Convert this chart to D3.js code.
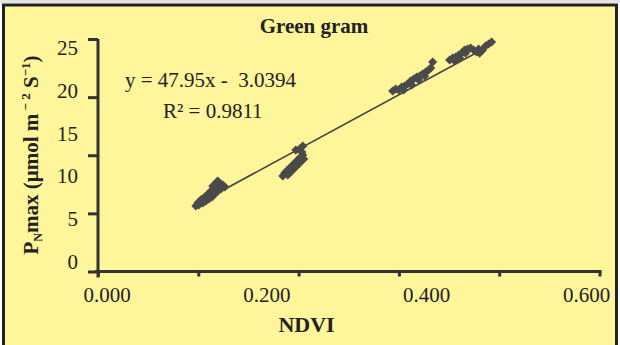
<!DOCTYPE html>
<html>
<head>
<meta charset="utf-8">
<script src="https://cdn.jsdelivr.net/npm/d3@7"></script>
<style>
  body { margin: 0; background: #fff; }
  svg { display: block; }
</style>
</head>
<body>
<div id="wrapper"></div>
<script>
const TITLE = "Green gram";
const X_LABEL = "NDVI";
const EQUATION = "y = 47.95x -  3.0394";
const R_SQUARED = "R\u00B2 = 0.9811";

// NDVI vs PNmax readings
const ndvi = [
  0.1171, 0.1195, 0.1207, 0.1219, 0.1243, 0.1255, 0.1279, 0.1291, 0.1315, 0.1327,
  0.1351, 0.1363, 0.1374, 0.1386, 0.1398, 0.1422, 0.1422, 0.1434, 0.1434, 0.1458,
  0.1470, 0.1494, 0.1518,
  0.2211, 0.2235, 0.2259, 0.2271, 0.2283, 0.2307, 0.2319, 0.2331, 0.2355, 0.2367,
  0.2378, 0.2402, 0.2414, 0.2426, 0.2450, 0.2462, 0.2367, 0.2414, 0.2450, 0.2438,
  0.3526, 0.3562, 0.3598, 0.3633, 0.3657, 0.3669, 0.3705, 0.3741, 0.3753, 0.3777,
  0.3813, 0.3837, 0.3849, 0.3884, 0.3908, 0.3920, 0.3956, 0.3980, 0.4004,
  0.4207, 0.4243, 0.4267, 0.4279, 0.4315, 0.4327, 0.4351, 0.4386, 0.4398, 0.4422,
  0.4458, 0.4494, 0.4530, 0.4554, 0.4566, 0.4602, 0.4637, 0.4673, 0.4709
];
const pnmax = [
  7.04, 7.37, 7.15, 7.58, 7.80, 7.37, 8.01, 7.58, 8.33, 7.80,
  8.66, 8.01, 9.19, 8.98, 8.33, 9.19, 9.62, 8.66, 9.73, 9.41,
  8.87, 9.30, 9.09,
  10.27, 10.59, 10.81, 10.38, 11.02, 11.24, 10.81, 11.45, 11.67, 11.24,
  11.88, 12.10, 11.67, 12.31, 12.53, 12.10, 13.06, 13.17, 13.49, 12.85,
  19.41, 19.62, 19.52, 19.84, 19.52, 19.95, 20.16, 20.48, 20.05, 20.70,
  20.91, 20.59, 21.02, 21.24, 21.02, 21.45, 21.67, 21.88, 22.53,
  22.74, 22.96, 22.63, 23.06, 23.28, 22.96, 23.49, 23.82, 23.49, 23.92,
  24.03, 23.82, 23.60, 23.92, 23.49, 23.82, 24.25, 24.46, 24.68
];

// linear trend line ends
const trendNdvi = [0.119, 0.466];
const trendPnmax = [7.26, 24.17];

// axis ticks
const xTickMarks = [0, 0.12, 0.24, 0.36, 0.48, 0.6];
const xTickLabels = [0, 0.2, 0.4, 0.6];
const yTickMarks = [0, 6.25, 12.5, 18.75, 25];
const yTickLabels = [0, 5, 10, 15, 20, 25];

const data = ndvi.map((d, i) => ({ x: d, y: pnmax[i] }));

const dimensions = {
  width: 620,
  height: 345,
  left: 98,
  right: 599.5,
  top: 39,
  bottom: 271.5
};

const ink = "#333";
const font = "'Liberation Serif', 'Times New Roman', serif";

const svg = d3.select("#wrapper")
  .append("svg")
  .attr("width", dimensions.width)
  .attr("height", dimensions.height);

// frame
svg.append("rect")
  .attr("x", 0).attr("y", 0)
  .attr("width", dimensions.width).attr("height", 3)
  .attr("fill", "#e4e4e4");
svg.append("rect")
  .attr("x", 3.5).attr("y", 5)
  .attr("width", 613).attr("height", 350)
  .attr("fill", "#fff59b")
  .attr("stroke", "#222")
  .attr("stroke-width", 3);

const xScale = d3.scaleLinear()
  .domain([0, 0.6])
  .range([dimensions.left, dimensions.right]);
const yScale = d3.scaleLinear()
  .domain([0, 25])
  .range([dimensions.bottom, dimensions.top]);

// tick labels sit a little off the tick marks in the original
const xLabelScale = d3.scaleLinear()
  .domain([0, 0.6])
  .range([106.5, 586]);
const yLabelScale = d3.scaleLinear()
  .domain([0, 25])
  .range([261, 47.5]);

// x axis: marks
const xAxis = svg.append("g")
  .attr("transform", `translate(0,${dimensions.bottom})`)
  .call(d3.axisBottom(xScale)
    .tickValues(xTickMarks)
    .tickSizeOuter(0)
    .tickSize(5)
    .tickFormat(""));
xAxis.select(".domain").attr("stroke", ink).attr("stroke-width", 3)
  .attr("d", `M${dimensions.left - 3},0H${dimensions.right + 2}`);
xAxis.selectAll(".tick line").attr("stroke", ink).attr("stroke-width", 3);

// x axis: labels
const xLabels = svg.append("g")
  .attr("transform", `translate(0,${dimensions.bottom})`)
  .call(d3.axisBottom(xLabelScale)
    .tickValues(xTickLabels)
    .tickSize(0)
    .tickPadding(0)
    .tickFormat(d3.format(".3f")));
xLabels.select(".domain").remove();
xLabels.selectAll("text")
  .attr("y", 30.5).attr("dy", null)
  .attr("fill", "#222")
  .style("font-family", font)
  .style("font-size", "21px");

// y axis: marks
const yAxis = svg.append("g")
  .attr("transform", `translate(${dimensions.left},0)`)
  .call(d3.axisLeft(yScale)
    .tickValues(yTickMarks)
    .tickSizeOuter(0)
    .tickSize(10)
    .tickFormat(""));
yAxis.select(".domain").attr("stroke", ink).attr("stroke-width", 3)
  .attr("d", `M0,${dimensions.top}V${dimensions.bottom + 6}`);
yAxis.selectAll(".tick line").attr("stroke", ink).attr("stroke-width", 3);

// y axis: labels
const yLabels = svg.append("g")
  .attr("transform", "translate(78,0)")
  .call(d3.axisLeft(yLabelScale)
    .tickValues(yTickLabels)
    .tickSize(0)
    .tickPadding(0));
yLabels.select(".domain").remove();
yLabels.selectAll("text")
  .attr("dy", "0.34em")
  .attr("fill", "#222")
  .style("font-family", font)
  .style("font-size", "21px");

// trend line
const trendLine = d3.line()
  .x(d => xScale(d[0]))
  .y(d => yScale(d[1]));
svg.append("path")
  .datum(trendNdvi.map((d, i) => [d, trendPnmax[i]]))
  .attr("d", trendLine)
  .attr("fill", "none")
  .attr("stroke", "#444")
  .attr("stroke-width", 1.6);

// diamond points
const diamond = d3.symbol().type(d3.symbolSquare).size(42);
svg.append("g")
  .selectAll("path")
  .data(data)
  .join("path")
  .attr("d", diamond)
  .attr("transform", d => `translate(${xScale(d.x)},${yScale(d.y)}) rotate(45)`)
  .attr("fill", "#4a4a4a");

// title
svg.append("text")
  .attr("x", 314).attr("y", 33)
  .attr("text-anchor", "middle")
  .attr("fill", "#222")
  .style("font-family", font)
  .style("font-weight", "bold")
  .style("font-size", "21px")
  .text(TITLE);

// equation and R squared
svg.append("text")
  .attr("x", 125).attr("y", 86.5)
  .attr("fill", "#222")
  .style("font-family", font)
  .style("font-size", "21px")
  .style("white-space", "pre")
  .text(EQUATION);
svg.append("text")
  .attr("x", 163).attr("y", 118)
  .attr("fill", "#222")
  .style("font-family", font)
  .style("font-size", "21px")
  .text(R_SQUARED);

// x axis title
svg.append("text")
  .attr("x", 306.5).attr("y", 332)
  .attr("text-anchor", "middle")
  .attr("fill", "#222")
  .style("font-family", font)
  .style("font-weight", "bold")
  .style("font-size", "22px")
  .text(X_LABEL);

// y axis title
const yTitle = svg.append("text")
  .attr("transform", "translate(38,155) rotate(-90)")
  .attr("text-anchor", "middle")
  .attr("fill", "#222")
  .style("font-family", font)
  .style("font-weight", "bold")
  .style("font-size", "21px");
yTitle.append("tspan").text("P");
yTitle.append("tspan").attr("dy", 4).style("font-size", "12px").text("N");
yTitle.append("tspan").attr("dy", -4).text("max (\u00B5mol m");
yTitle.append("tspan").attr("dy", -8).style("font-size", "13px").text(" \u2212 2");
yTitle.append("tspan").attr("dy", 8).text(" S");
yTitle.append("tspan").attr("dy", -8).style("font-size", "13px").text("\u22121");
yTitle.append("tspan").attr("dy", 8).text(")");
</script>
</body>
</html>
